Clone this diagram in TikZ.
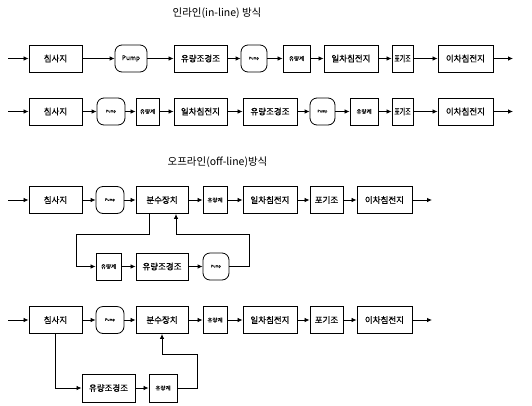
\documentclass[tikz,border=0pt]{standalone}
\usepackage{fontspec}
\setmainfont{Noto Sans CJK KR}[FakeBold=0.4]
\newfontfamily\plainkr{Noto Sans CJK KR}
\usetikzlibrary{arrows.meta}
\begin{document}
\begin{tikzpicture}[x=1pt,y=-1pt,
 box/.style={draw,line width=0.9pt,inner sep=0pt,minimum height=27pt,font=\fontsize{8.5}{9}\selectfont},
 sbox/.style={box,font=\fontsize{5.5}{6}\selectfont},
 pmp/.style={draw,line width=0.8pt,rectangle,rounded corners=7pt,inner sep=0pt,minimum height=27pt,font=\fontsize{3.5}{4}\selectfont},
 bpmp/.style={pmp,font=\fontsize{6.5}{7}\selectfont},
 arr/.style={line width=0.8pt,-{Latex[length=5pt,width=4.5pt]}},
 ttl/.style={font=\plainkr\fontsize{10.5}{12}\selectfont}]
\useasboundingbox (0,0) rectangle (532,405);

\node[ttl] (t1) at (217,13) {인라인(in-line) 방식};
\node[ttl] (t2) at (217.5,162) {오프라인(off-line)방식};

% Row 1
\coordinate (r1s) at (8,58.5);
\node[box,minimum width=53pt] (r1a) at (55.5,58.5) {침사지};
\node[bpmp,minimum width=32pt] (r1p1) at (131,58.5) {Pump};
\node[box,minimum width=53pt] (r1b) at (200.5,58.5) {유량조경조};
\node[pmp,minimum width=26pt] (r1p2) at (254,58.5) {Pump};
\node[sbox,minimum width=27pt] (r1c) at (296.5,58.5) {유량계};
\node[box,minimum width=54pt] (r1d) at (351,58.5) {일차침전지};
\node[box,minimum width=21pt] (r1e) at (402.5,58.5) {\scalebox{0.7}[1]{포기조}};
\node[box,minimum width=55pt] (r1f) at (465.5,58.5) {이차침전지};
\coordinate (r1t) at (513,58.5);
\draw[arr] (r1s) -- (r1a);
\draw[arr] (r1a) -- (r1p1);
\draw[arr] (r1p1) -- (r1b);
\draw[arr] (r1b) -- (r1p2);
\draw[arr] (r1p2) -- (r1c);
\draw[arr] (r1c) -- (r1d);
\draw[arr] (r1d) -- (r1e);
\draw[arr] (r1e) -- (r1f);
\draw[arr] (r1f) -- (r1t);

% Row 2
\coordinate (r2s) at (8,111.5);
\node[box,minimum width=53pt] (r2a) at (55.5,111.5) {침사지};
\node[pmp,minimum width=28pt] (r2p1) at (111,111.5) {Pump};
\node[sbox,minimum width=23pt] (r2b) at (147.5,111.5) {유량계};
\node[box,minimum width=53pt] (r2c) at (200.5,111.5) {일차침전지};
\node[box,minimum width=54pt] (r2d) at (270,111.5) {유량조경조};
\node[pmp,minimum width=25pt] (r2p2) at (322.5,111.5) {Pump};
\node[sbox,minimum width=28pt] (r2e) at (364,111.5) {유량계};
\node[box,minimum width=21pt] (r2f) at (402.5,111.5) {\scalebox{0.7}[1]{포기조}};
\node[box,minimum width=55pt] (r2g) at (465.5,111.5) {이차침전지};
\coordinate (r2t) at (513,111.5);
\draw[arr] (r2s) -- (r2a);
\draw[arr] (r2a) -- (r2p1);
\draw[arr] (r2p1) -- (r2b);
\draw[arr] (r2b) -- (r2c);
\draw[arr] (r2c) -- (r2d);
\draw[arr] (r2d) -- (r2p2);
\draw[arr] (r2p2) -- (r2e);
\draw[arr] (r2e) -- (r2f);
\draw[arr] (r2f) -- (r2g);
\draw[arr] (r2g) -- (r2t);

% Row 3
\coordinate (r3s) at (8,200);
\node[box,minimum width=53pt] (r3a) at (55.5,200) {침사지};
\node[pmp,minimum width=28pt] (r3p) at (110,200) {Pump};
\node[box,minimum width=52pt] (r3c) at (162,200) {분수장치};
\node[sbox,minimum width=24pt] (r3d) at (215,200) {유량계};
\node[box,minimum width=54pt] (r3e) at (270,200) {일차침전지};
\node[box,minimum width=33pt] (r3f) at (326.5,200) {포기조};
\node[box,minimum width=55pt] (r3h) at (384.5,200) {이차침전지};
\coordinate (r3t) at (432,200);
\node[sbox,minimum width=25pt] (r3g) at (108.5,266.5) {유량계};
\node[box,minimum width=52pt] (r3k) at (162,266.5) {유량조경조};
\node[pmp,minimum width=26pt] (r3i) at (216,266.5) {Pump};
\draw[arr] (r3s) -- (r3a);
\draw[arr] (r3a) -- (r3p);
\draw[arr] (r3p) -- (r3c);
\draw[arr] (r3c) -- (r3d);
\draw[arr] (r3d) -- (r3e);
\draw[arr] (r3e) -- (r3f);
\draw[arr] (r3f) -- (r3h);
\draw[arr] (r3h) -- (r3t);
\draw[arr] ([xshift=-13pt]r3c.south) |- (76,234) |- (r3g.west);
\draw[arr] (r3g) -- (r3k);
\draw[arr] (r3k) -- (r3i);
\draw[arr] (r3i.east) -| (249,234) -| ([xshift=14pt]r3c.south);

% Row 4
\coordinate (r4s) at (8,320);
\node[box,minimum width=53pt] (r4a) at (55.5,320) {침사지};
\node[pmp,minimum width=28pt] (r4p) at (110,320) {Pump};
\node[box,minimum width=52pt] (r4c) at (162,320) {분수장치};
\node[sbox,minimum width=24pt] (r4d) at (215,320) {유량계};
\node[box,minimum width=54pt] (r4e) at (270,320) {일차침전지};
\node[box,minimum width=33pt] (r4f) at (326.5,320) {포기조};
\node[box,minimum width=55pt] (r4h) at (384.5,320) {이차침전지};
\coordinate (r4t) at (432,320);
\node[box,minimum width=53pt,minimum height=28pt] (r4g) at (108.5,388) {유량조경조};
\node[sbox,minimum width=28pt,minimum height=28pt] (r4k) at (163,388) {유량계};
\draw[arr] (r4s) -- (r4a);
\draw[arr] (r4a) -- (r4p);
\draw[arr] (r4p) -- (r4c);
\draw[arr] (r4c) -- (r4d);
\draw[arr] (r4d) -- (r4e);
\draw[arr] (r4e) -- (r4f);
\draw[arr] (r4f) -- (r4h);
\draw[arr] (r4h) -- (r4t);
\draw[arr] (r4a.south) |- (r4g.west);
\draw[arr] (r4g) -- (r4k);
\draw[arr] (r4k.east) -| (197,354) -| (r4c.south);
\end{tikzpicture}
\end{document}
